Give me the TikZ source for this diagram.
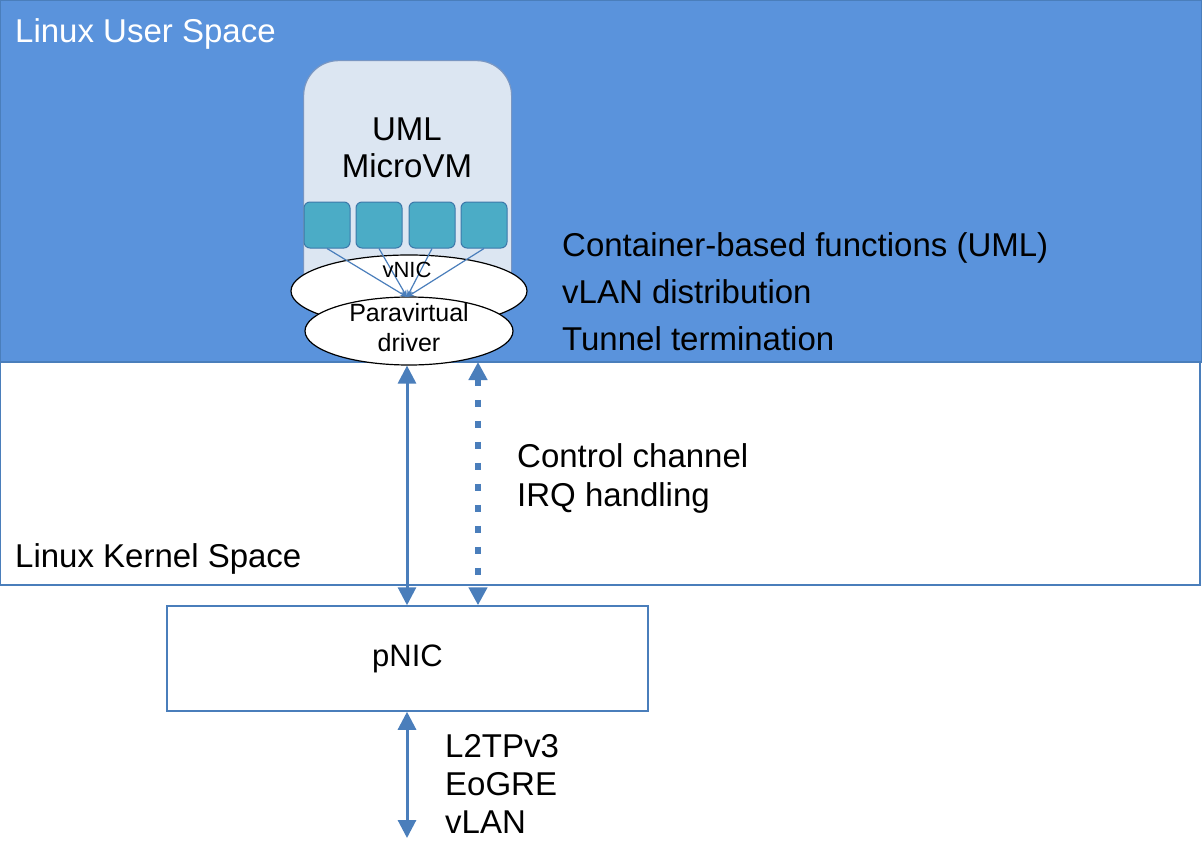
\documentclass[tikz,border=0pt]{standalone}
\usepackage{fontspec}
\setmainfont{Liberation Sans}
\usepackage{xcolor}
\usetikzlibrary{arrows.meta,
positioning,
shapes.geometric,
calc}

\definecolor{userblue}{RGB}{90,147,220}
\definecolor{lineblue}{RGB}{74,126,187}
\definecolor{vmfill}{RGB}{220,230,242}
\definecolor{vmline}{RGB}{120,150,195}
\definecolor{appfill}{RGB}{75,172,198}
\definecolor{appline}{RGB}{60,120,170}

\begin{document}
\begin{tikzpicture}[
x=1pt, y=-1pt,
>={Triangle[width=18pt,length=18pt]},
space/.style={
draw=lineblue,
line width=2pt,
anchor=north west,
inner sep=0pt,
outer sep=0pt
},
label/.style={
font=\fontsize{33}{37}\selectfont,
align=left,
inner sep=0pt
},
app/.style={
draw=appline,
fill=appfill,
rounded corners=6pt,
minimum width=46pt,
minimum height=46pt,
inner sep=0pt,
line width=1pt
},
nic/.style={
draw=black,
fill=white,
ellipse,
inner sep=0pt,
line width=1.2pt
},
dbl/.style={
<->,
draw=lineblue,
line width=3pt
}
]
\useasboundingbox (0,0) rectangle (1202,841);

% Spaces
\node[space, fill=userblue, minimum width=1202pt, minimum height=362pt]
(user) at (0,0) {};
\node[space, fill=white, minimum width=1200pt, minimum height=223pt]
(kernel) at (0,362) {};

\node[label, text=white, anchor=base west] (userlbl) at (15,42) {Linux User Space};
\node[label, anchor=base west] (kernellbl) at (15,567) {Linux Kernel Space};

% MicroVM
\node[draw=vmline, fill=vmfill, rounded corners=35pt, line width=1.2pt,
minimum width=208pt, minimum height=262pt, anchor=north west]
(vm) at (303,60) {};
\node[label, align=center] (vmlbl) at (407,148) {UML\\MicroVM};

\foreach \i/\x in {1/327,2/379,3/432,4/484}
\node[app] (app\i) at (\x,225) {};

% vNIC and driver
\node[nic, minimum width=236pt, minimum height=72pt] (vnic) at (409,291) {};
\node[nic, minimum width=208pt, minimum height=68pt] (drv) at (409,331) {};
\coordinate (vnicin) at (407,297);

\foreach \i in {1,...,4}
\draw[-{Stealth[length=7pt,width=6pt]}, draw=lineblue, line width=1.2pt]
(app\i.south) -- (vnicin);

\node[font=\fontsize{22}{24}\selectfont, inner sep=0pt] (vniclbl) at (407,270) {vNIC};
\node[font=\fontsize{25}{30}\selectfont, align=center, inner sep=0pt]
(drvlbl) at (409,328) {Paravirtual\\driver};

% Functions
\node[label, font=\fontsize{33}{47}\selectfont, anchor=west] (funcs) at (562,292)
{Container-based functions (UML)\\vLAN distribution\\Tunnel termination};

% pNIC
\node[draw=lineblue, fill=white, line width=1.5pt, minimum width=481pt,
minimum height=105pt, font=\fontsize{31}{35}\selectfont]
(pnic) at (407.5,658.5) {pNIC};

% Connections
\draw[dbl] (drv.south -| 407,0) -- (pnic.north -| 407,0);
\draw[dbl, line width=6pt, dash pattern=on 7pt off 14pt]
(user.south -| 478,0) -- (pnic.north -| 478,0);

\node[label, font=\fontsize{33}{39}\selectfont, anchor=west] (ctrl) at (517,478)
{Control channel\\IRQ handling};

\coordinate (net) at (407,838);
\draw[dbl] (pnic.south -| net) -- (net);

\node[label, font=\fontsize{33}{38}\selectfont, anchor=west] (tunnels) at (445,784)
{L2TPv3\\EoGRE\\vLAN};

\end{tikzpicture}
\end{document}
